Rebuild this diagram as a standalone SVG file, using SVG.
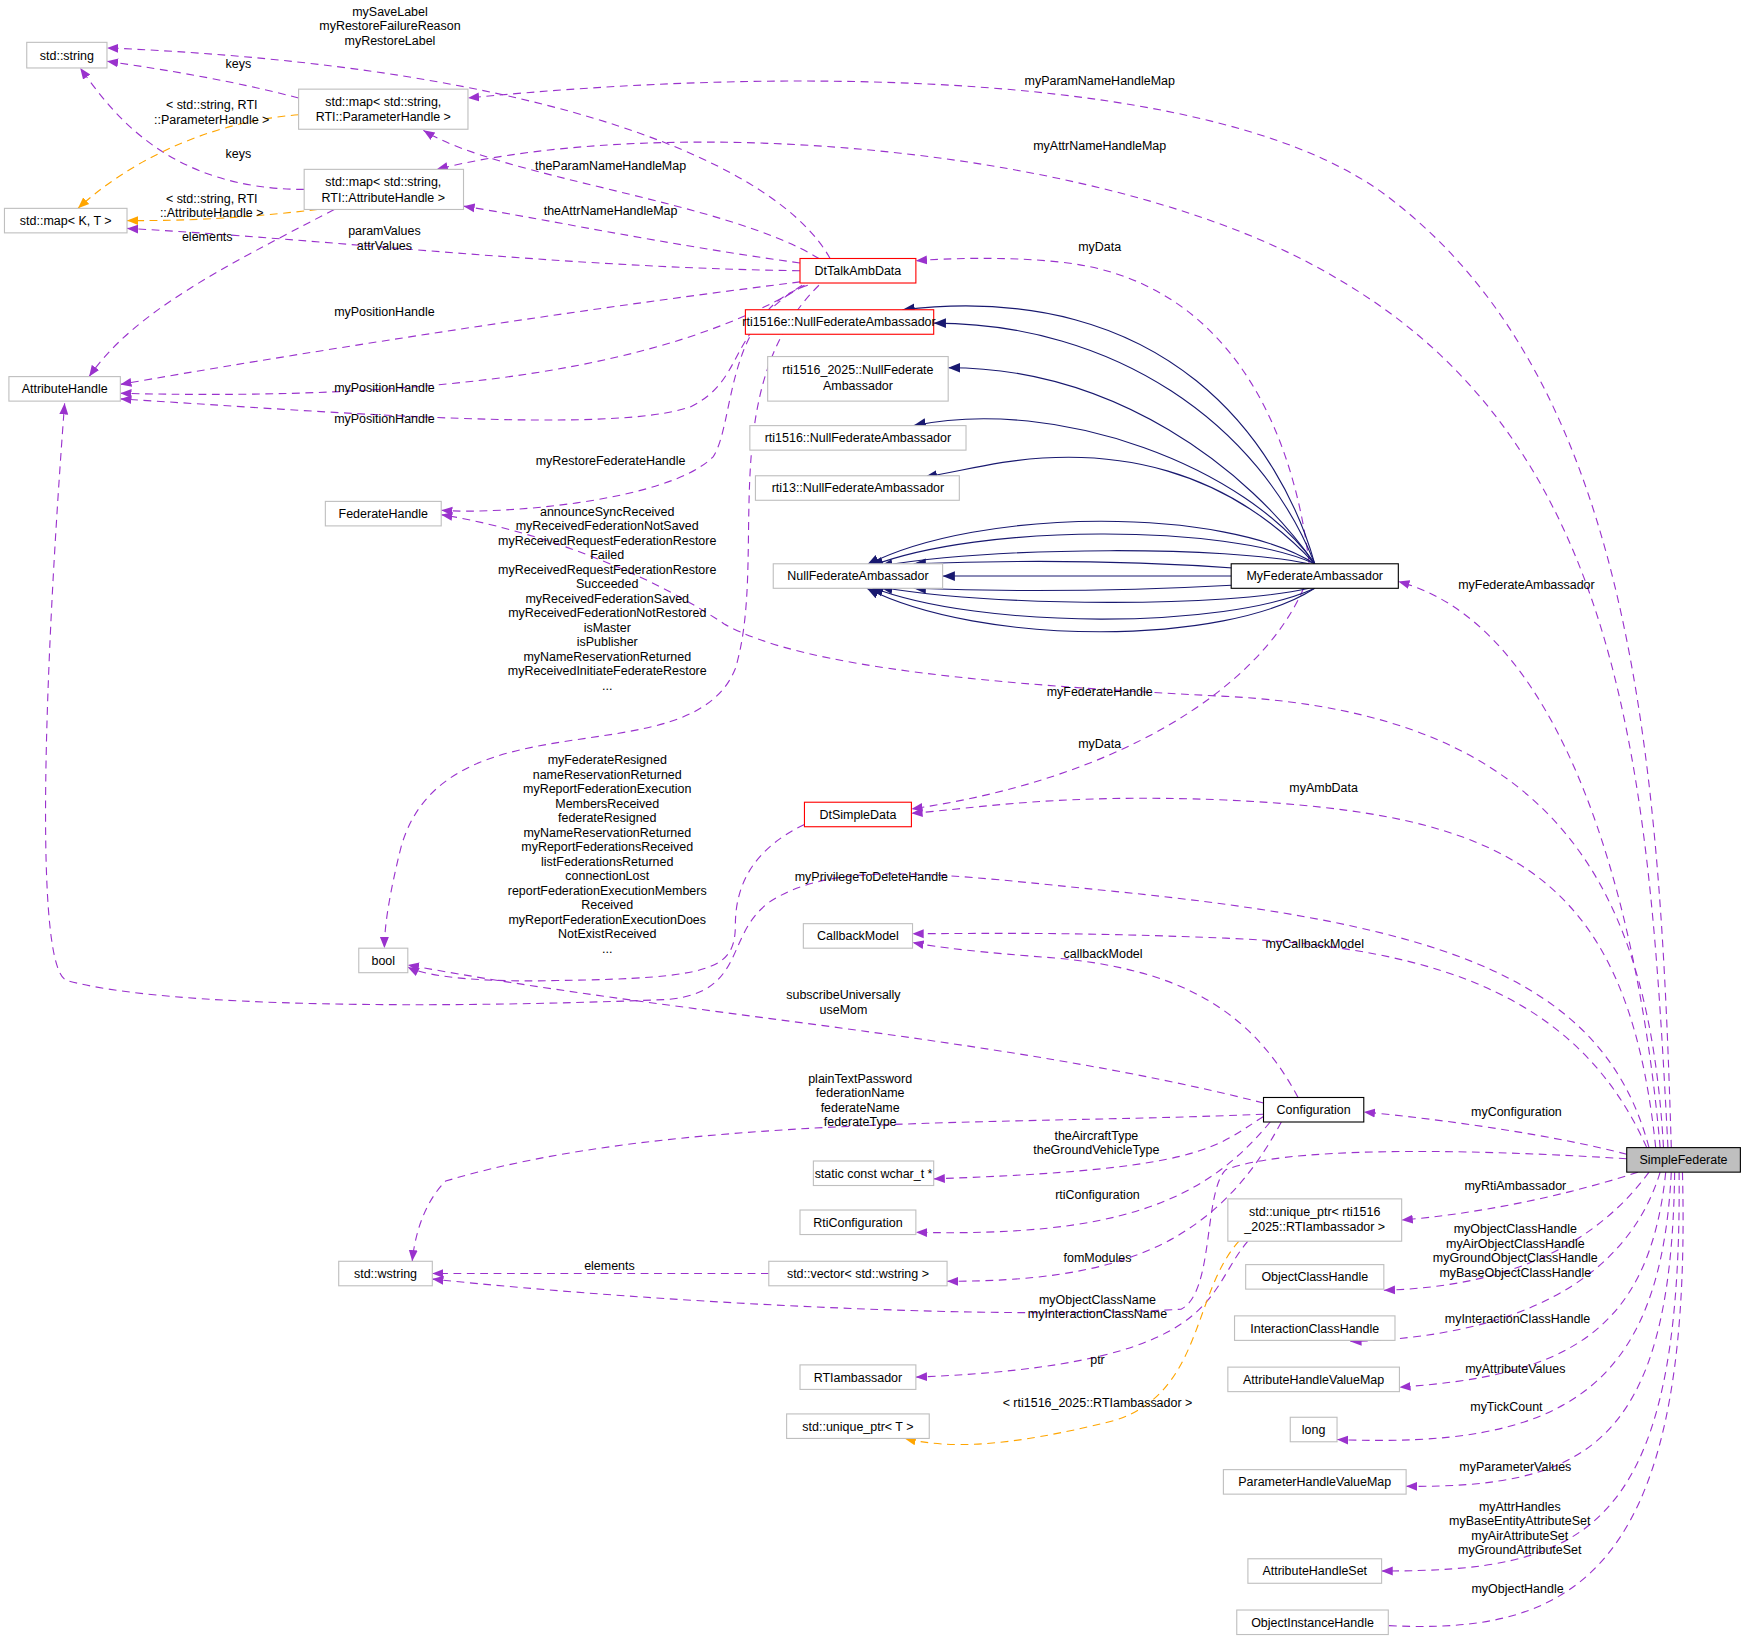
<svg xmlns="http://www.w3.org/2000/svg" width="1747" height="1646" viewBox="0 0 1747 1646">
<style>
text{font-family:"Liberation Sans",Arial,sans-serif;font-size:11.2px;fill:#000;text-anchor:middle}
.n{fill:#fff;stroke:#bfbfbf;stroke-width:1}
.r{fill:#fff;stroke:#ff0000;stroke-width:1}
.b{fill:#fff;stroke:#000;stroke-width:1}
.e{fill:none;stroke:#9a32cd;stroke-dasharray:7,5;stroke-width:1}
.o{fill:none;stroke:#ffa500;stroke-dasharray:7,5;stroke-width:1}
.i{fill:none;stroke:#191970;stroke-width:1}
</style>
<defs>
<marker id="ap" viewBox="0 0 10 10" refX="10" refY="5" markerWidth="10" markerHeight="10" markerUnits="userSpaceOnUse" orient="auto"><path d="M0,1 L10,5 L0,9 z" fill="#9a32cd"/></marker>
<marker id="ao" viewBox="0 0 10 10" refX="10" refY="5" markerWidth="10" markerHeight="10" markerUnits="userSpaceOnUse" orient="auto"><path d="M0,1 L10,5 L0,9 z" fill="#ffa500"/></marker>
<marker id="ai" viewBox="0 0 10 10" refX="10" refY="5" markerWidth="11" markerHeight="11" markerUnits="userSpaceOnUse" orient="auto"><path d="M0,1 L10,5 L0,9 z" fill="#191970"/></marker>
</defs>
<rect width="1747" height="1646" fill="#fff"/>
<g transform="scale(1.1142)">
<g id="edges">
<g marker-end="url(#ap)">
<path class="e" d="M1500,1030 C1490,700 1470,350 1250,180 C1100,60 700,60 420,88"/>
<path class="e" d="M1497,1030 C1480,700 1460,400 1200,250 C1000,130 600,100 392,152"/>
<path class="e" d="M1490,1030 C1470,800 1400,560 1255,522"/>
<path class="e" d="M1493,1030 C1480,800 1400,640 1100,625 C900,615 720,600 650,560 C560,500 450,470 396,462"/>
<path class="e" d="M1486,1030 C1460,780 1350,730 1100,718 C950,712 880,725 818,730"/>
<path class="e" d="M1480,1030 C1440,880 1300,830 1000,800 C850,785 750,770 690,810 C650,840 670,890 600,897 C400,905 150,905 60,880 C30,870 40,600 58,362"/>
<path class="e" d="M722,740 C680,760 660,790 660,830 C660,870 640,878 500,880 C420,882 380,875 366,868"/>
<path class="e" d="M1478,1030 C1420,900 1300,850 1100,842 C950,836 880,838 819,838"/>
<path class="e" d="M1460,1036 C1400,1020 1300,1005 1224,998"/>
<path class="e" d="M1460,1040 C1300,1030 1150,1030 1100,1050 C1080,1070 1090,1160 1060,1175 C900,1185 600,1170 388,1148"/>
<path class="e" d="M1470,1052 C1400,1075 1320,1090 1258,1095"/>
<path class="e" d="M1480,1052 C1430,1120 1350,1155 1242,1158"/>
<path class="e" d="M1490,1052 C1460,1150 1360,1200 1212,1204"/>
<path class="e" d="M1495,1052 C1480,1200 1400,1235 1256,1245"/>
<path class="e" d="M1500,1052 C1490,1250 1400,1300 1200,1292"/>
<path class="e" d="M1503,1052 C1500,1300 1420,1335 1262,1334"/>
<path class="e" d="M1507,1052 C1510,1380 1420,1410 1240,1410"/>
<path class="e" d="M1510,1052 C1520,1430 1400,1470 1230,1458"/>
<path class="e" d="M745,232 C700,150 500,60 96,43"/>
<path class="e" d="M735,232 C650,180 450,160 380,117"/>
<path class="e" d="M718,236 C600,220 480,195 416,185"/>
<path class="e" d="M718,243 C500,240 300,215 114,205"/>
<path class="e" d="M718,253 C500,280 250,320 108,345"/>
<path class="e" d="M722,256 C600,330 400,360 108,353"/>
<path class="e" d="M720,256 C650,300 670,340 620,365 C550,390 300,370 108,358"/>
<path class="e" d="M725,256 C650,280 660,380 640,410 C600,450 450,462 396,458"/>
<path class="e" d="M735,256 C640,350 690,500 660,600 C620,700 400,620 360,760 C350,800 345,830 345,851"/>
<path class="e" d="M1175,506 C1160,380 1100,250 950,235 C900,230 850,232 822,234"/>
<path class="e" d="M1170,528 C1130,620 1000,700 818,726"/>
<path class="e" d="M1165,985 C1120,900 1050,870 950,860 C880,855 840,850 819,846"/>
<path class="e" d="M1134,990 C900,930 600,910 366,866"/>
<path class="e" d="M1134,1000 C900,1010 600,1000 400,1060 C380,1080 372,1110 370,1132"/>
<path class="e" d="M1134,1002 C1090,1030 1080,1050 838,1058"/>
<path class="e" d="M1140,1007 C1080,1080 1000,1110 822,1106"/>
<path class="e" d="M1150,1007 C1090,1120 1000,1150 850,1150"/>
<path class="e" d="M1120,1114 C1080,1160 1100,1225 822,1236"/>
<path class="e" d="M690,1143 L388,1143"/>
<path class="e" d="M268,88 C200,70 130,60 96,55"/>
<path class="e" d="M273,170 C150,170 100,100 72,61"/>
<path class="e" d="M300,188 C200,240 120,280 80,338"/>
</g>
<g marker-end="url(#ao)">
<path class="o" d="M1112,1114 C1070,1160 1080,1250 1000,1275 C900,1300 850,1300 812,1291"/>
<path class="o" d="M268,103 C180,110 110,150 70,187"/>
<path class="o" d="M285,188 C200,198 150,198 114,198"/>
</g>
<g marker-end="url(#ai)">
<path class="i" d="M1180,506 C1150,400 1050,250 810,278"/>
<path class="i" d="M1180,506 C1130,380 1000,290 838,290"/>
<path class="i" d="M1180,506 C1120,420 1000,330 851,330"/>
<path class="i" d="M1180,506 C1120,420 950,355 820,382"/>
<path class="i" d="M1180,506 C1100,420 1000,400 900,415 C870,420 850,425 830,428"/>
<path class="i" d="M1180,506 C1100,455 880,455 778,507"/>
<path class="i" d="M1180,506 C1100,470 880,470 782,508"/>
<path class="i" d="M1175,506 C1100,490 900,490 790,508"/>
<path class="i" d="M1110,510 C1000,502 900,503 820,506"/>
<path class="i" d="M1105,517 L846,517"/>
<path class="i" d="M1110,525 C1000,531 900,531 820,528"/>
<path class="i" d="M1175,528 C1100,545 900,545 790,527"/>
<path class="i" d="M1180,528 C1100,565 880,565 782,527"/>
<path class="i" d="M1180,528 C1100,580 880,580 778,528"/>
</g>
<g>
<text x="987" y="76">myParamNameHandleMap</text>
<text x="987" y="135">myAttrNameHandleMap</text>
<text x="1370" y="529">myFederateAmbassador</text>
<text x="987" y="625">myFederateHandle</text>
<text x="1188" y="711">myAmbData</text>
<text x="782" y="791">myPrivilegeToDeleteHandle</text>
<text x="1180" y="851">myCallbackModel</text>
<text x="1361" y="1002">myConfiguration</text>
<text x="985" y="1170">myObjectClassName</text>
<text x="985" y="1183">myInteractionClassName</text>
<text x="1360" y="1068">myRtiAmbassador</text>
<text x="1360" y="1107">myObjectClassHandle</text>
<text x="1360" y="1120">myAirObjectClassHandle</text>
<text x="1360" y="1133">myGroundObjectClassHandle</text>
<text x="1360" y="1146">myBaseObjectClassHandle</text>
<text x="1362" y="1187">myInteractionClassHandle</text>
<text x="1360" y="1232">myAttributeValues</text>
<text x="1352" y="1266">myTickCount</text>
<text x="1360" y="1320">myParameterValues</text>
<text x="1364" y="1356">myAttrHandles</text>
<text x="1364" y="1369">myBaseEntityAttributeSet</text>
<text x="1364" y="1382">myAirAttributeSet</text>
<text x="1364" y="1395">myGroundAttributeSet</text>
<text x="1362" y="1430">myObjectHandle</text>
<text x="350" y="14">mySaveLabel</text>
<text x="350" y="27">myRestoreFailureReason</text>
<text x="350" y="40">myRestoreLabel</text>
<text x="548" y="153">theParamNameHandleMap</text>
<text x="548" y="193">theAttrNameHandleMap</text>
<text x="345" y="211">paramValues</text>
<text x="345" y="224">attrValues</text>
<text x="186" y="216">elements</text>
<text x="345" y="284">myPositionHandle</text>
<text x="345" y="352">myPositionHandle</text>
<text x="345" y="380">myPositionHandle</text>
<text x="548" y="417">myRestoreFederateHandle</text>
<text x="545" y="463">announceSyncReceived</text>
<text x="545" y="476">myReceivedFederationNotSaved</text>
<text x="545" y="489">myReceivedRequestFederationRestore</text>
<text x="545" y="502">Failed</text>
<text x="545" y="515">myReceivedRequestFederationRestore</text>
<text x="545" y="528">Succeeded</text>
<text x="545" y="541">myReceivedFederationSaved</text>
<text x="545" y="554">myReceivedFederationNotRestored</text>
<text x="545" y="567">isMaster</text>
<text x="545" y="580">isPublisher</text>
<text x="545" y="593">myNameReservationReturned</text>
<text x="545" y="606">myReceivedInitiateFederateRestore</text>
<text x="545" y="619">...</text>
<text x="987" y="225">myData</text>
<text x="987" y="671">myData</text>
<text x="545" y="686">myFederateResigned</text>
<text x="545" y="699">nameReservationReturned</text>
<text x="545" y="712">myReportFederationExecution</text>
<text x="545" y="725">MembersReceived</text>
<text x="545" y="738">federateResigned</text>
<text x="545" y="751">myNameReservationReturned</text>
<text x="545" y="764">myReportFederationsReceived</text>
<text x="545" y="777">listFederationsReturned</text>
<text x="545" y="790">connectionLost</text>
<text x="545" y="803">reportFederationExecutionMembers</text>
<text x="545" y="816">Received</text>
<text x="545" y="829">myReportFederationExecutionDoes</text>
<text x="545" y="842">NotExistReceived</text>
<text x="545" y="855">...</text>
<text x="990" y="860">callbackModel</text>
<text x="757" y="897">subscribeUniversally</text>
<text x="757" y="910">useMom</text>
<text x="772" y="972">plainTextPassword</text>
<text x="772" y="985">federationName</text>
<text x="772" y="998">federateName</text>
<text x="772" y="1011">federateType</text>
<text x="984" y="1023">theAircraftType</text>
<text x="984" y="1036">theGroundVehicleType</text>
<text x="985" y="1076">rtiConfiguration</text>
<text x="985" y="1133">fomModules</text>
<text x="985" y="1224">ptr</text>
<text x="985" y="1263">&lt; rti1516_2025::RTIambassador &gt;</text>
<text x="547" y="1140">elements</text>
<text x="190" y="98">&lt; std::string, RTI</text>
<text x="190" y="111">::ParameterHandle &gt;</text>
<text x="190" y="182">&lt; std::string, RTI</text>
<text x="190" y="195">::AttributeHandle &gt;</text>
<text x="214" y="61">keys</text>
<text x="214" y="142">keys</text>
</g>
</g>
<g id="n_string"><rect class="n" x="24" y="38" width="72" height="23"/><text x="60" y="54">std::string</text></g>
<g id="n_mapparam"><rect class="n" x="268" y="80" width="152" height="36"/><text x="344" y="95">std::map&lt; std::string,</text><text x="344" y="109">RTI::ParameterHandle &gt;</text></g>
<g id="n_mapkt"><rect class="n" x="4" y="187" width="110" height="22"/><text x="59" y="202">std::map&lt; K, T &gt;</text></g>
<g id="n_mapattr"><rect class="n" x="273" y="152" width="143" height="36"/><text x="344" y="167">std::map&lt; std::string,</text><text x="344" y="181">RTI::AttributeHandle &gt;</text></g>
<g id="n_talk"><rect class="r" x="718" y="232" width="104" height="22"/><text x="770" y="247">DtTalkAmbData</text></g>
<g id="n_1516e"><rect class="r" x="669" y="278" width="169" height="22"/><text x="753" y="293">rti1516e::NullFederateAmbassador</text></g>
<g id="n_2025"><rect class="n" x="689" y="320" width="162" height="40"/><text x="770" y="336">rti1516_2025::NullFederate</text><text x="770" y="350">Ambassador</text></g>
<g id="n_1516"><rect class="n" x="673" y="382" width="194" height="22"/><text x="770" y="397">rti1516::NullFederateAmbassador</text></g>
<g id="n_13"><rect class="n" x="678" y="427" width="183" height="22"/><text x="770" y="442">rti13::NullFederateAmbassador</text></g>
<g id="n_null"><rect class="n" x="694" y="506" width="152" height="22"/><text x="770" y="521">NullFederateAmbassador</text></g>
<g id="n_myfed"><rect class="b" x="1105" y="506" width="150" height="22"/><text x="1180" y="521">MyFederateAmbassador</text></g>
<g id="n_attrh"><rect class="n" x="8" y="338" width="100" height="22"/><text x="58" y="353">AttributeHandle</text></g>
<g id="n_fedh"><rect class="n" x="292" y="450" width="104" height="22"/><text x="344" y="465">FederateHandle</text></g>
<g id="n_bool"><rect class="n" x="322" y="851" width="44" height="22"/><text x="344" y="866">bool</text></g>
<g id="n_simple"><rect class="r" x="722" y="720" width="96" height="22"/><text x="770" y="735">DtSimpleData</text></g>
<g id="n_cb"><rect class="n" x="721" y="829" width="98" height="22"/><text x="770" y="844">CallbackModel</text></g>
<g id="n_conf"><rect class="b" x="1134" y="985" width="90" height="22"/><text x="1179" y="1000">Configuration</text></g>
<g id="n_sf"><rect x="1460" y="1030" width="102" height="22" fill="#bfbfbf" stroke="#000"/><text x="1511" y="1045">SimpleFederate</text></g>
<g id="n_wchar"><rect class="n" x="730" y="1042" width="108" height="22"/><text x="784" y="1057">static const wchar_t *</text></g>
<g id="n_rticonf"><rect class="n" x="718" y="1086" width="104" height="22"/><text x="770" y="1101">RtiConfiguration</text></g>
<g id="n_wstring"><rect class="n" x="304" y="1132" width="84" height="22"/><text x="346" y="1147">std::wstring</text></g>
<g id="n_vector"><rect class="n" x="690" y="1132" width="160" height="22"/><text x="770" y="1147">std::vector&lt; std::wstring &gt;</text></g>
<g id="n_uptr"><rect class="n" x="1102" y="1076" width="156" height="38"/><text x="1180" y="1091">std::unique_ptr&lt; rti1516</text><text x="1180" y="1105">_2025::RTIambassador &gt;</text></g>
<g id="n_och"><rect class="n" x="1118" y="1135" width="124" height="22"/><text x="1180" y="1150">ObjectClassHandle</text></g>
<g id="n_ich"><rect class="n" x="1108" y="1181" width="144" height="22"/><text x="1180" y="1196">InteractionClassHandle</text></g>
<g id="n_ahvm"><rect class="n" x="1102" y="1227" width="154" height="22"/><text x="1179" y="1242">AttributeHandleValueMap</text></g>
<g id="n_rtiamb"><rect class="n" x="718" y="1225" width="104" height="22"/><text x="770" y="1240">RTIambassador</text></g>
<g id="n_long"><rect class="n" x="1158" y="1272" width="42" height="22"/><text x="1179" y="1287">long</text></g>
<g id="n_uptrt"><rect class="n" x="706" y="1269" width="128" height="22"/><text x="770" y="1284">std::unique_ptr&lt; T &gt;</text></g>
<g id="n_phvm"><rect class="n" x="1098" y="1319" width="164" height="22"/><text x="1180" y="1334">ParameterHandleValueMap</text></g>
<g id="n_ahs"><rect class="n" x="1120" y="1399" width="120" height="22"/><text x="1180" y="1414">AttributeHandleSet</text></g>
<g id="n_oih"><rect class="n" x="1110" y="1445" width="136" height="22"/><text x="1178" y="1460">ObjectInstanceHandle</text></g>
</g>
</svg>
